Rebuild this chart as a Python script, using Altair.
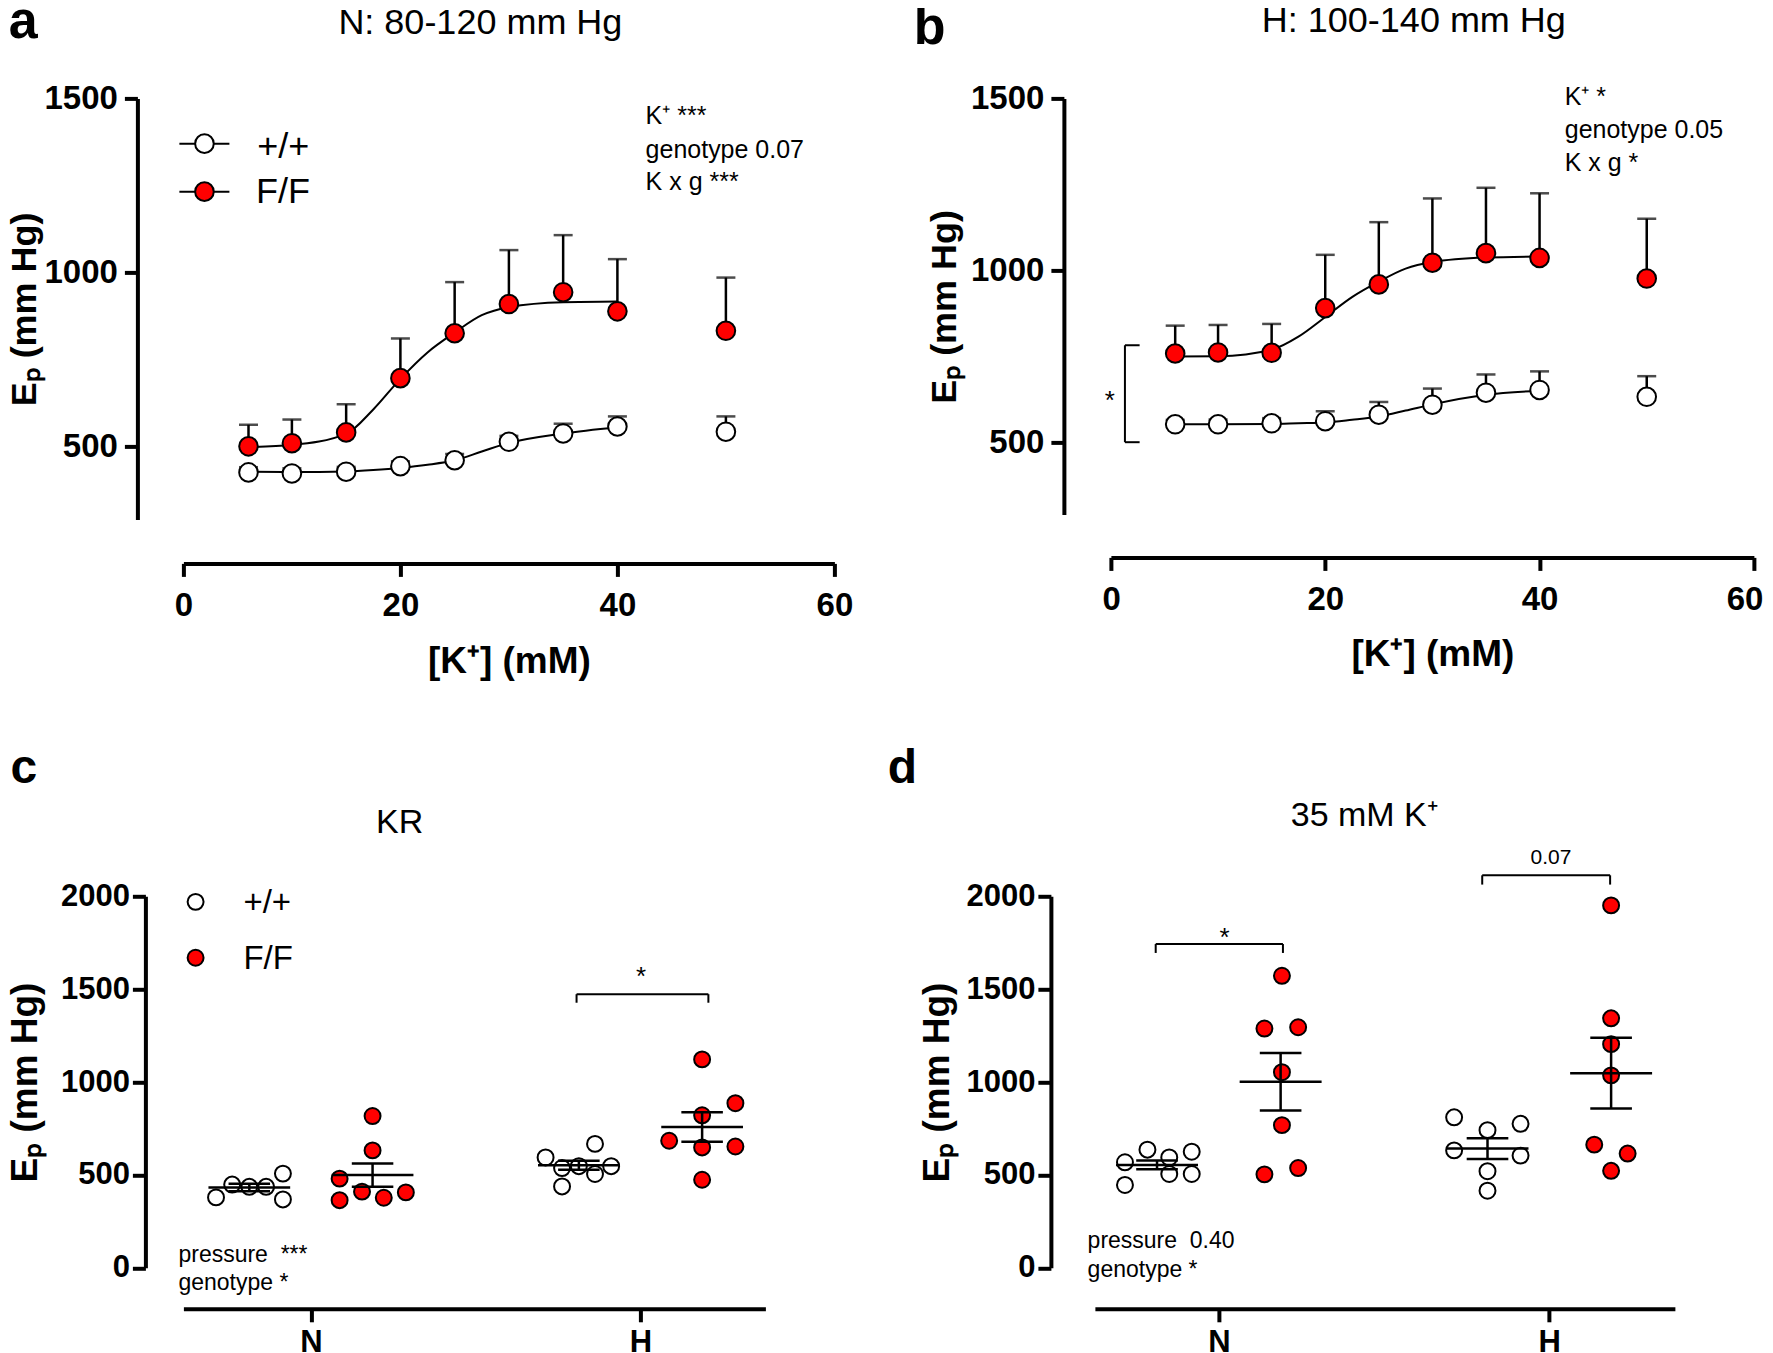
import altair as alt
import pandas as pd

FONT = "Liberation Sans"
RED = "#ff0000"
GENO = ["+/+", "F/F"]

# ---------------- panels a / b : concentration-response ----------------
K = [6, 10, 15, 20, 25, 30, 35, 40, 50]
a_wt_mean = [425, 422, 427, 443, 460, 513, 537, 557, 542]
a_wt_upper = [440, 437, 441, 457, 478, 530, 565, 586, 586]
a_ff_mean = [500, 509, 540, 696, 825, 909, 943, 888, 832]
a_ff_upper = [562, 577, 621, 810, 972, 1064, 1107, 1038, 985]
b_wt_mean = [552, 552, 555, 561, 580, 609, 644, 652, 632]
b_wt_upper = [565, 566, 570, 590, 617, 656, 697, 706, 692]
b_ff_mean = [758, 761, 760, 890, 959, 1022, 1050, 1036, 976]
b_ff_upper = [839, 841, 844, 1045, 1140, 1209, 1240, 1224, 1150]

FIT_K = [6, 10, 15, 17.5, 20, 22.5, 25, 27.5, 30, 35, 40]
a_wt_fit = [427, 426, 428, 432, 438, 447, 460, 485, 510, 537, 555]
a_ff_fit = [498, 504, 536, 606, 694, 770, 827, 877, 900, 914, 916]
b_wt_fit = [552, 552, 553, 555, 557, 565, 575, 592, 610, 638, 650]
b_ff_fit = [749, 750, 769, 807, 864, 922, 967, 1005, 1024, 1037, 1040]

# ---------------- panels c / d : individual values ----------------
GROUPS = ["N", "H"]
c_wt_N = [379, 448, 436, 436, 507, 368]
c_wt_N_off = [-0.288, -0.239, -0.187, -0.136, -0.085, -0.085]
c_ff_N = [817, 632, 480, 364, 410, 377, 406]
c_ff_N_off = [0.187, 0.187, 0.087, 0.087, 0.155, 0.221, 0.288]
c_wt_H = [594, 438, 537, 547, 667, 505, 547]
c_wt_H_off = [-0.288, -0.238, -0.238, -0.187, -0.138, -0.138, -0.089]
c_ff_H = [1122, 821, 886, 684, 648, 653, 474]
c_ff_H_off = [0.187, 0.187, 0.288, 0.087, 0.187, 0.288, 0.187]
c_mean = [432, 499, 552, 758]
c_sem = [20, 63, 24, 79]

d_wt_N = [446, 568, 636, 594, 505, 625, 505]
d_wt_N_off = [-0.284, -0.284, -0.216, -0.150, -0.150, -0.082, -0.082]
d_ff_N = [1572, 1288, 1295, 1053, 768, 503, 537]
d_ff_N_off = [0.191, 0.138, 0.240, 0.191, 0.191, 0.138, 0.240]
d_wt_H = [810, 741, 775, 632, 604, 520, 415]
d_wt_H_off = [-0.288, -0.187, -0.087, -0.288, -0.087, -0.187, -0.187]
d_ff_H = [1951, 1343, 1204, 1036, 663, 615, 522]
d_ff_H_off = [0.187, 0.187, 0.187, 0.187, 0.136, 0.237, 0.187]
d_mean = [554, 1002, 642, 1048]
d_sem = [24, 155, 56, 190]

ONE = pd.DataFrame({"k": [0]})
COLOR = alt.Color("geno:N", scale=alt.Scale(domain=GENO, range=["white", RED]), legend=None)


def text(x, y, s, size, weight="normal", align="left", baseline="alphabetic"):
    return alt.Chart(ONE).mark_text(
        text=s, font=FONT, fontSize=size, fontWeight=weight, align=align,
        baseline=baseline, color="black"
    ).encode(x=alt.datum(x), y=alt.datum(y))


def rule(x1, y1, x2=None, y2=None, w=2):
    enc = {"x": alt.datum(x1), "y": alt.datum(y1)}
    if x2 is not None:
        enc["x2"] = alt.datum(x2)
    if y2 is not None:
        enc["y2"] = alt.datum(y2)
    return alt.Chart(ONE).mark_rule(color="black", strokeWidth=w).encode(**enc)


def dot(x, y, geno, size):
    return alt.Chart(pd.DataFrame({"geno": [geno]})).mark_circle(
        size=size, stroke="black", strokeWidth=2, opacity=1
    ).encode(x=alt.datum(x), y=alt.datum(y), color=COLOR)


def anchor(x, y):
    # invisible layout anchor (fixes the outer extent of the figure)
    return alt.Chart(ONE).mark_circle(size=1, opacity=0).encode(x=alt.datum(x), y=alt.datum(y))


def curve_panel(wt_mean, wt_up, ff_mean, ff_up, wt_fit, ff_fit, w, h, yoff, xoff, ytp, xtp,
                flush, extra):
    xs = alt.Scale(domain=[0, 60], nice=False, zero=False)
    ys = alt.Scale(domain=[290, 1500], nice=False, zero=False)
    n = len(K)
    eb = pd.DataFrame({"K": K + K, "mean": wt_mean + ff_mean, "up": wt_up + ff_up,
                       "geno": ["+/+"] * n + ["F/F"] * n})
    m = len(FIT_K)
    fit = pd.DataFrame({"K": FIT_K + FIT_K, "v": wt_fit + ff_fit,
                        "geno": ["+/+"] * m + ["F/F"] * m})
    if flush:
        xax = alt.Axis(values=[0, 20, 40, 60], offset=xoff, title="[K⁺] (mM)", labelFontSize=33,
                       titleFontSize=37, labelPadding=13, titlePadding=xtp, format="d",
                       labelFlush=True, labelFlushOffset=9)
    else:
        xax = alt.Axis(values=[0, 20, 40, 60], offset=xoff, title="[K⁺] (mM)", labelFontSize=33,
                       titleFontSize=37, labelPadding=13, titlePadding=xtp, format="d")
    yax = alt.Axis(values=[500, 1000, 1500], offset=yoff, title="Eₚ (mm Hg)", labelFontSize=33,
                   titleFontSize=36, labelPadding=7, titlePadding=ytp, format="d")
    lines = alt.Chart(fit).mark_line(color="black", strokeWidth=2, interpolate="monotone").encode(
        x=alt.X("K:Q", scale=xs, axis=xax), y=alt.Y("v:Q", scale=ys, axis=yax), detail="geno:N")
    bars = alt.Chart(eb).mark_rule(color="black", strokeWidth=2.5).encode(
        x="K:Q", y="mean:Q", y2="up:Q")
    caps = alt.Chart(eb).mark_tick(orient="horizontal", size=19, thickness=2.5, color="black").encode(
        x="K:Q", y="up:Q")
    pts = alt.Chart(eb).mark_circle(size=346, stroke="black", strokeWidth=2, opacity=1).encode(
        x="K:Q", y="mean:Q", color=COLOR)
    return alt.layer(lines, bars, caps, pts, *extra).properties(width=w, height=h)


def dot_panel(sets, means, sems, w, h, xmin, xmax, yoff, ytp, extra):
    xs = alt.Scale(domain=[xmin, xmax], nice=False, zero=False)
    ys = alt.Scale(domain=[0, 2000], nice=False, zero=False)
    rows = []
    for g, geno, vals, offs in sets:
        for v, o in zip(vals, offs):
            rows.append({"g": g, "geno": geno, "x": g + o, "v": v})
    pts_df = pd.DataFrame(rows)
    summ = pd.DataFrame({"g": [0, 0, 1, 1], "geno": GENO * 2, "mean": means, "sem": sems})
    xax = alt.Axis(values=[0, 1], labelExpr="datum.value == 0 ? 'N' : 'H'", offset=41, title="",
                   labelFontSize=31, labelPadding=6)
    yax = alt.Axis(values=[0, 500, 1000, 1500, 2000], offset=yoff, title="Eₚ (mm Hg)",
                   labelFontSize=31, titleFontSize=37, labelPadding=3, titlePadding=ytp, format="d")
    pts = alt.Chart(pts_df).mark_circle(size=254, stroke="black", strokeWidth=2, opacity=1).encode(
        x=alt.X("x:Q", scale=xs, axis=xax), y=alt.Y("v:Q", scale=ys, axis=yax), color=COLOR)
    sm = alt.Chart(summ).transform_calculate(
        c="datum.g + (datum.geno == '+/+' ? -0.187 : 0.187)"
    ).transform_calculate(
        lo="datum.mean - datum.sem", hi="datum.mean + datum.sem",
        ml="datum.c - 0.124", mr="datum.c + 0.124",
        cl="datum.c - 0.063", cr="datum.c + 0.063")
    mean_r = sm.mark_rule(color="black", strokeWidth=2.5).encode(x="ml:Q", x2="mr:Q", y="mean:Q")
    sem_r = sm.mark_rule(color="black", strokeWidth=2.5).encode(x="c:Q", y="lo:Q", y2="hi:Q")
    cap_h = sm.mark_rule(color="black", strokeWidth=2.5).encode(x="cl:Q", x2="cr:Q", y="hi:Q")
    cap_l = sm.mark_rule(color="black", strokeWidth=2.5).encode(x="cl:Q", x2="cr:Q", y="lo:Q")
    return alt.layer(pts, mean_r, sem_r, cap_h, cap_l, *extra).properties(width=w, height=h)


def bracket(x1, x2, ytop, ybot):
    return [rule(x1, ytop, x2=x2), rule(x1, ytop, y2=ybot), rule(x2, ytop, y2=ybot)]


extra_a = [
    anchor(-17.88, 1841.4), anchor(30, -230.5),
    text(-16.1, 1675, "a", 52, "bold"),
    text(27.37, 1686, "N: 80-120 mm Hg", 36, align="center"),
    text(42.6, 1425, "K⁺ ***", 25),
    text(42.6, 1330, "genotype 0.07", 25),
    text(42.6, 1238, "K x g ***", 25),
    rule(-0.37, 1370, x2=4.24), dot(1.94, 1370, "+/+", 346), text(6.8, 1330, "+/+", 36),
    rule(-0.37, 1232, x2=4.24), dot(1.94, 1232, "F/F", 346), text(6.7, 1198, "F/F", 36),
]
extra_b = [
    text(-18.4, 1658, "b", 52, "bold"),
    text(28.27, 1693, "H: 100-140 mm Hg", 36, align="center"),
    text(42.35, 1481, "K⁺ *", 25),
    text(42.35, 1385, "genotype 0.05", 25),
    text(42.35, 1289, "K x g *", 25),
    rule(1.31, 782, y2=500), rule(1.31, 782, x2=2.68), rule(1.31, 500, x2=2.68),
    text(-0.09, 597, "*", 26, align="center"),
]
extra_c = [
    anchor(0.5, 2939.5),
    text(-0.912, 2608, "c", 48, "bold"),
    text(0.269, 2339, "KR", 34, align="center"),
    dot(-0.350, 1970, "+/+", 254), text(-0.205, 1912, "+/+", 33),
    dot(-0.350, 1669, "F/F", 254), text(-0.205, 1611, "F/F", 33),
    text(-0.402, 32, "pressure\u00a0\u00a0***", 23),
    text(-0.402, -118, "genotype *", 23),
    *bracket(0.806, 1.206, 1473, 1427),
    text(1.002, 1520, "*", 26, align="center"),
]
extra_d = [
    text(-1.002, 2608, "d", 48, "bold"),
    text(0.440, 2377, "35 mM K⁺", 34, align="center"),
    text(-0.397, 106, "pressure\u00a0\u00a00.40", 23),
    text(-0.397, -52, "genotype *", 23),
    *bracket(-0.191, 0.194, 1743, 1695),
    text(0.017, 1730, "*", 26, align="center"),
    *bracket(0.797, 1.184, 2113, 2063),
    text(1.005, 2175, "0.07", 21, align="center"),
]

pa = curve_panel(a_wt_mean, a_wt_upper, a_ff_mean, a_ff_upper, a_wt_fit, a_ff_fit,
                 651, 421, 46, 44, 0.5, 21, False, extra_a)
pb = curve_panel(b_wt_mean, b_wt_upper, b_ff_mean, b_ff_upper, b_wt_fit, b_ff_fit,
                 643, 416, 47, 43, 6.5, 20, True, extra_b)
pc = dot_panel([(0, "+/+", c_wt_N, c_wt_N_off), (0, "F/F", c_ff_N, c_ff_N_off),
                (1, "+/+", c_wt_H, c_wt_H_off), (1, "F/F", c_ff_H, c_ff_H_off)],
               c_mean, c_sem, 582, 371.5, -0.387, 1.379, 38, 16, extra_c)
pd_ = dot_panel([(0, "+/+", d_wt_N, d_wt_N_off), (0, "F/F", d_ff_N, d_ff_N_off),
                 (1, "+/+", d_wt_H, d_wt_H_off), (1, "F/F", d_ff_H, d_ff_H_off)],
                d_mean, d_sem, 580, 371.5, -0.375, 1.380, 44, 9, extra_d)

top = alt.hconcat(pa, pb, spacing=276.5, bounds="flush")
bottom = alt.hconcat(pc, pd_, spacing=329.5, bounds="flush")

chart = alt.vconcat(top, bottom, spacing=18.9).properties(
    padding={"left": -19.6, "top": -29.6, "right": 0, "bottom": 0}
).configure(font=FONT).configure_view(stroke=None).configure_axis(
    labelFont=FONT, labelFontWeight="bold", labelColor="black",
    titleFont=FONT, titleFontWeight="bold", titleColor="black",
    domainColor="black", domainWidth=4, tickColor="black", tickWidth=4, tickSize=13,
    grid=False, labelFlush=False, labelOverlap=False
)

chart.save("out.html", embed_options={"renderer": "svg", "actions": False})
